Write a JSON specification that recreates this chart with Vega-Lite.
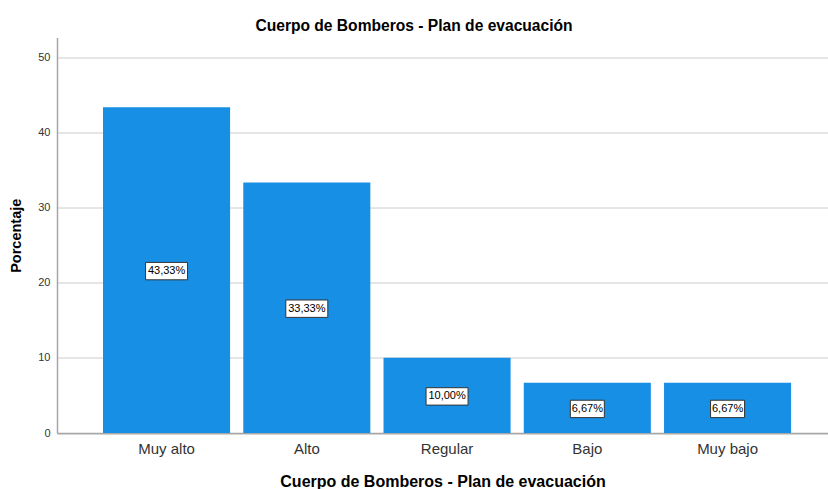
{
  "$schema": "https://vega.github.io/schema/vega-lite/v6.json",
  "autosize": {"type": "none"},
  "width": 771,
  "height": 395.5,
  "padding": {"left": 57, "top": 37.5, "right": 0, "bottom": 56},
  "background": "white",
  "config": {"font": "Liberation Sans", "view": {"stroke": null}},
  "title": {"text": "Cuerpo de Bomberos - Plan de evacuación", "fontSize": 15.6, "fontWeight": "bold", "color": "#000000", "anchor": "middle", "dx": -28.5, "offset": 3},
  "data": {"values": [
    {"categoria": "Muy alto", "porcentaje": 43.33, "etiqueta": "43,33%"},
    {"categoria": "Alto", "porcentaje": 33.33, "etiqueta": "33,33%"},
    {"categoria": "Regular", "porcentaje": 10.0, "etiqueta": "10,00%"},
    {"categoria": "Bajo", "porcentaje": 6.67, "etiqueta": "6,67%"},
    {"categoria": "Muy bajo", "porcentaje": 6.67, "etiqueta": "6,67%"}
  ]},
  "encoding": {
    "x": {
      "field": "categoria", "type": "nominal", "sort": null,
      "scale": {"paddingInner": 0.094, "paddingOuter": 0.2956, "align": 0.555},
      "axis": {
        "title": "Cuerpo de Bomberos - Plan de evacuación",
        "titleFontSize": 16, "titleFontWeight": "bold", "titleColor": "#000000", "titlePadding": 17,
        "labelFontSize": 15, "labelColor": "#333333", "labelPadding": 8, "labelAngle": 0,
        "ticks": false, "domainColor": "#a6a6a6", "domainWidth": 1.5, "grid": false
      }
    }
  },
  "layer": [
    {
      "mark": {"type": "bar", "color": "#178fe5"},
      "encoding": {
        "y": {
          "field": "porcentaje", "type": "quantitative",
          "scale": {"domain": [0, 52.6], "nice": false},
          "axis": {
            "title": "Porcentaje", "titleFontSize": 14.5, "titleFontWeight": "bold", "titleColor": "#000000", "titlePadding": 14,
            "values": [0, 10, 20, 30, 40, 50], "labelFontSize": 11, "labelColor": "#333333", "labelPadding": 7,
            "ticks": false, "domainColor": "#a6a6a6", "domainWidth": 1.5,
            "grid": true, "gridColor": "#cccccc", "gridWidth": 1
          }
        }
      }
    },
    {
      "mark": {"type": "point", "filled": false, "fill": "white", "fillOpacity": 1, "stroke": "#333333", "strokeWidth": 1, "opacity": 1, "size": 400, "yOffset": 1},
      "encoding": {
        "y": {"field": "porcentaje", "type": "quantitative", "scale": {"domain": [0, 105.2], "nice": false}, "axis": null},
        "shape": {"condition": {"test": "datum.porcentaje < 10", "value": "M-1.7,-0.87H1.7V0.87H-1.7Z"}, "value": "M-2.1,-0.87H2.1V0.87H-2.1Z"}
      }
    },
    {
      "mark": {"type": "text", "fontSize": 11, "color": "#000000", "baseline": "middle", "align": "center", "yOffset": 1},
      "encoding": {
        "y": {"field": "porcentaje", "type": "quantitative", "scale": {"domain": [0, 105.2], "nice": false}, "axis": null},
        "text": {"field": "etiqueta", "type": "nominal"}
      }
    }
  ],
  "resolve": {"scale": {"y": "independent"}}
}
